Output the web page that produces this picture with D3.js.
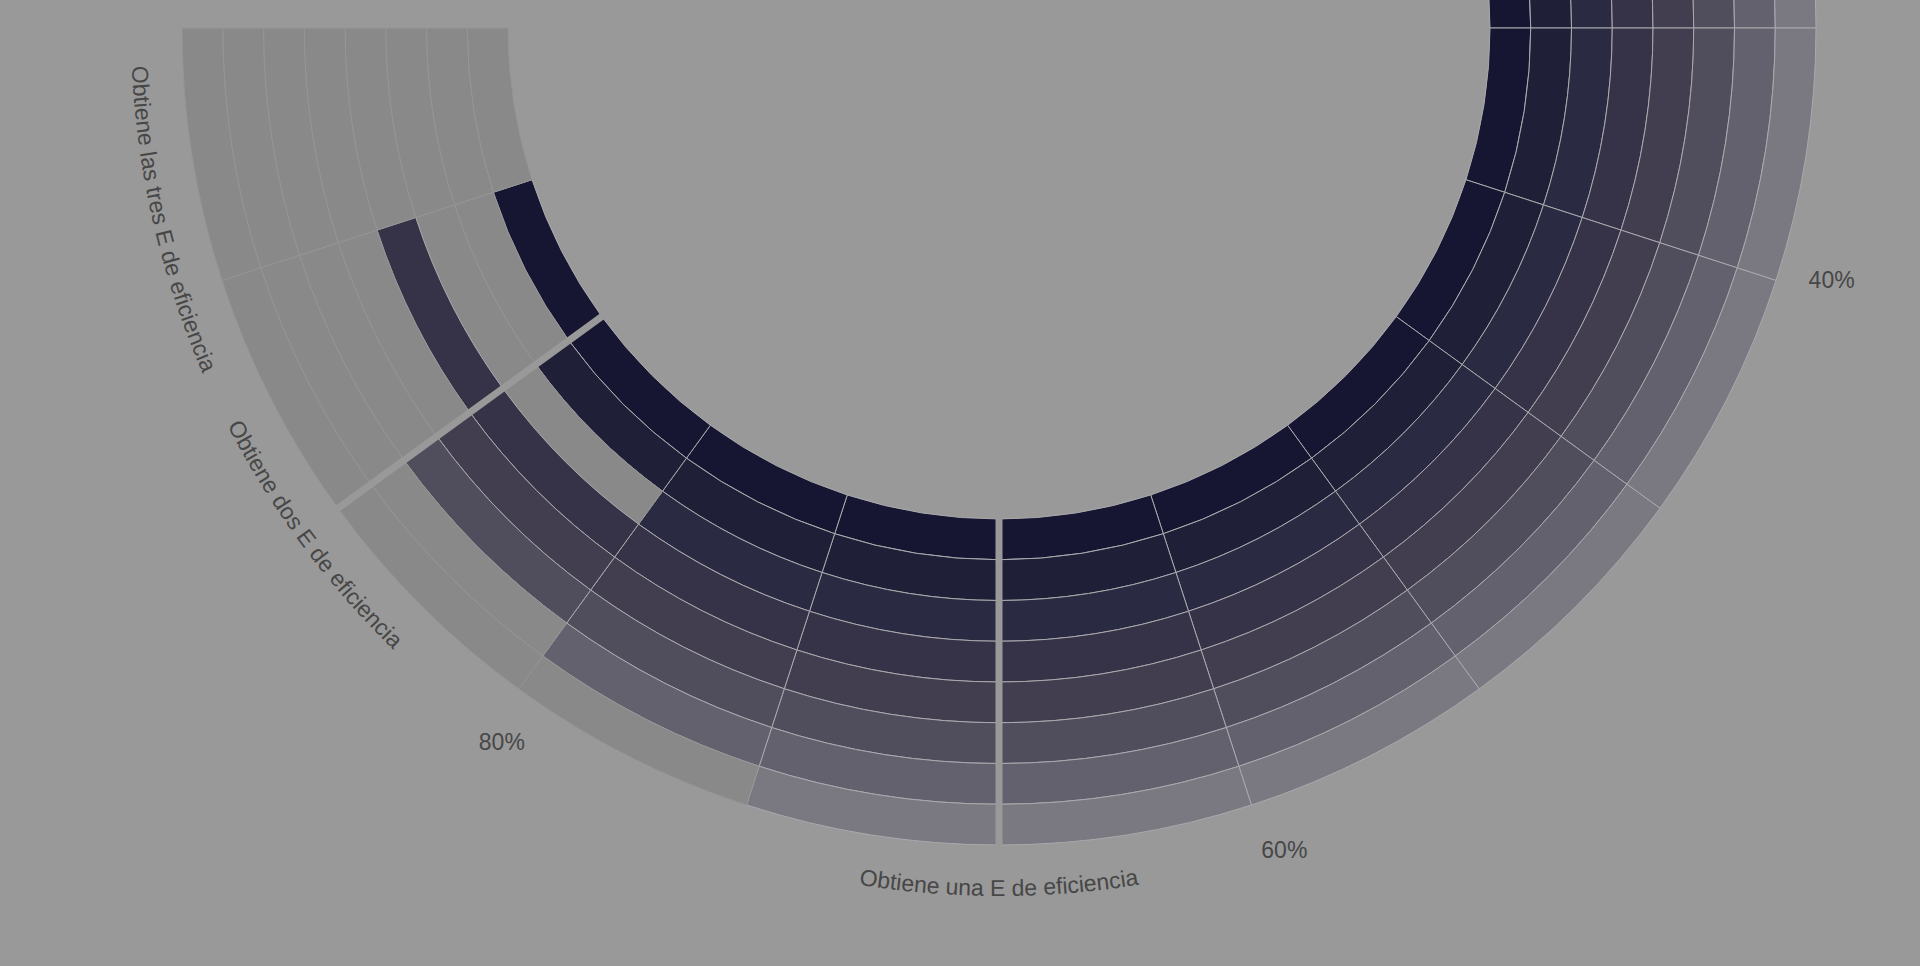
<!DOCTYPE html>
<html><head><meta charset="utf-8">
<script src="https://cdn.jsdelivr.net/npm/d3@7"></script>
<style>html,body{margin:0;padding:0;background:#999999;overflow:hidden}</style>
</head><body>
<svg id="c" width="1920" height="966"></svg>
<script>
const groupLabels = ["Obtiene una E de eficiencia", "Obtiene dos E de eficiencia", "Obtiene las tres E de eficiencia"];
const groupSizes = [10, 3, 2];
const groupLabelAngles = [90, 143.5, 167];
const rings = ["r1", "r2", "r3", "r4", "r5", "r6", "r7", "r8"];
const ringColors = ["#161632", "#1f1f38", "#2a2a42", "#363247", "#423e50", "#504d5d", "#64616e", "#7a7880"];
const ring1 = [1,1,1,1,1,1,1,1,1,1, 1,1,1, 1,0];
const ring2 = [1,1,1,1,1,1,1,1,1,1, 1,1,1, 0,0];
const ring3 = [1,1,1,1,1,1,1,1,1,1, 1,1,0, 0,0];
const ring4 = [1,1,1,1,1,1,1,1,1,1, 1,1,1, 1,0];
const ring5 = [1,1,1,1,1,1,1,1,1,1, 1,1,1, 0,0];
const ring6 = [1,1,1,1,1,1,1,1,1,1, 1,1,1, 0,0];
const ring7 = [1,1,1,1,1,1,1,1,1,1, 1,1,0, 0,0];
const ring8 = [1,1,1,1,1,1,1,1,1,1, 1,0,0, 0,0];
const availability = [ring1, ring2, ring3, ring4, ring5, ring6, ring7, ring8];
const tickValues = [40, 60, 80];
const tickLabels = ["40%", "60%", "80%"];

const cx = 999, cy = 28, rIn = 491, rOut = 817, labelR = 870;
const svg = d3.select("#c");
const g = svg.append("g").attr("transform", `translate(${cx},${cy})`);
const nSect = ring1.length;
const sect = d3.scaleLinear().domain([0, nSect]).range([0, 1.5 * Math.PI]);
const pct = d3.scaleLinear().domain([0, 100]).range([0, 1.5 * Math.PI]);
const rad = d3.scaleBand().domain(rings).range([rIn, rOut]);
const arc = d3.arc();

const cells = [];
availability.forEach((row, ri) => row.forEach((v, si) => cells.push({ri, si, v})));
g.selectAll("path.cell").data(cells).join("path")
  .attr("class", "cell")
  .attr("d", d => arc({innerRadius: rad(rings[d.ri]), outerRadius: rad(rings[d.ri]) + rad.bandwidth(),
                       startAngle: sect(d.si), endAngle: sect(d.si + 1)}))
  .attr("fill", d => d.v ? ringColors[d.ri] : "#898989")
  .attr("stroke", d => d.v ? "#a9a9ad" : "#959595")
  .attr("stroke-width", 1);

const bounds = d3.cumsum(groupSizes).slice(0, -1);
bounds.forEach(b => {
  const a = sect(b) - Math.PI / 2;
  g.append("line")
    .attr("x1", (rIn - 2) * Math.cos(a)).attr("y1", (rIn - 2) * Math.sin(a))
    .attr("x2", (rOut + 2) * Math.cos(a)).attr("y2", (rOut + 2) * Math.sin(a))
    .attr("stroke", "#999999").attr("stroke-width", 7);
});

g.selectAll("text.tick").data(tickValues).join("text")
  .attr("class", "tick")
  .attr("x", d => labelR * Math.cos(pct(d) - Math.PI / 2 - 0.02))
  .attr("y", d => labelR * Math.sin(pct(d) - Math.PI / 2 - 0.02))
  .attr("text-anchor", "middle").attr("dominant-baseline", "central")
  .attr("font-family", "Liberation Sans, Arial, sans-serif").attr("font-size", 23)
  .attr("fill", "#474747")
  .text((d, i) => tickLabels[i]);

const R = 868;
groupLabels.forEach((lab, i) => {
  const c = groupLabelAngles[i] * Math.PI / 180, span = 0.45;
  const a1 = c + span, a2 = c - span;
  const p = `M${R * Math.cos(a1)},${R * Math.sin(a1)} A${R},${R} 0 0 0 ${R * Math.cos(a2)},${R * Math.sin(a2)}`;
  g.append("path").attr("id", "lp" + i).attr("d", p).attr("fill", "none");
  g.append("text")
    .attr("font-family", "Liberation Sans, Arial, sans-serif").attr("font-size", 23)
    .attr("fill", "#474747")
    .append("textPath").attr("href", "#lp" + i)
    .attr("startOffset", "50%").attr("text-anchor", "middle")
    .text(lab);
});
</script>
</body></html>
